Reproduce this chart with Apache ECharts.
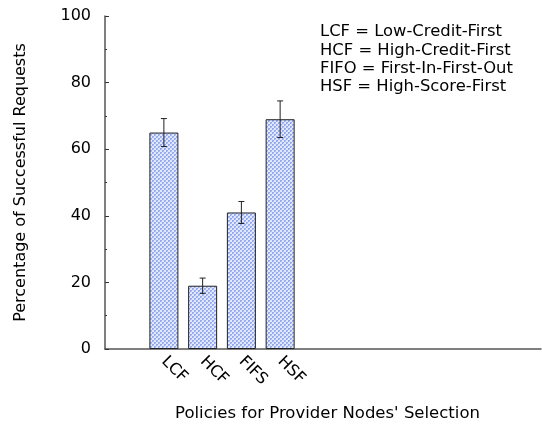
<!DOCTYPE html>
<html>
<head>
<meta charset="utf-8">
<script src="https://cdn.jsdelivr.net/npm/echarts@6/dist/echarts.min.js"></script>
<style>
  html, body { margin: 0; padding: 0; background: #fff; }
  #chart { width: 542px; height: 424px; }
</style>
</head>
<body>
<div id="chart"></div>
<script>
// Policies and their success rates (%) with error half-widths
const policies = ['LCF', 'HCF', 'FIFS', 'HSF'];
const successRate = [65, 19, 41, 69];
const errorHalf = [4.2, 2.3, 3.3, 5.5];
const yTicks = [0, 20, 40, 60, 80, 100];
const legendLines = [
  'LCF = Low-Credit-First',
  'HCF = High-Credit-First',
  'FIFO = First-In-First-Out',
  'HSF = High-Score-First'
];

const FONT = 'DejaVu Sans';

// Small checkered fill used for the bars
function makePattern() {
  const c = document.createElement('canvas');
  c.width = 4; c.height = 4;
  const g = c.getContext('2d');
  for (let y = 0; y < 4; y++) {
    for (let x = 0; x < 4; x++) {
      const dark = (Math.floor(x / 2) + Math.floor(y / 2)) % 2 === 0;
      g.fillStyle = dark ? '#93a8ef' : '#e2e8fc';
      g.fillRect(x, y, 1, 1);
    }
  }
  g.fillStyle = '#b9c7f5';
  g.fillRect(1, 1, 1, 1);
  g.fillRect(3, 3, 1, 1);
  return c;
}

const chart = echarts.init(document.getElementById('chart'), null, { renderer: 'canvas' });

const TOP = 16, BOTTOM = 75;

chart.setOption({
  backgroundColor: '#fff',
  animation: false,
  textStyle: { fontFamily: FONT },
  grid: [
    { left: 105, top: TOP, right: 1, bottom: BOTTOM, outerBoundsMode: 'none', containLabel: false },
    { left: 144.5, top: TOP, width: 155, bottom: BOTTOM, outerBoundsMode: 'none', containLabel: false }
  ],
  xAxis: [
    {
      gridIndex: 0, type: 'value', min: 0, max: 1,
      axisLine: { show: true, lineStyle: { color: '#555', width: 1.5 } },
      axisTick: { show: false }, axisLabel: { show: false }, splitLine: { show: false },
      name: "Policies for Provider Nodes' Selection",
      nameLocation: 'middle', nameGap: 56,
      nameTextStyle: { fontFamily: FONT, fontSize: 16.5, color: '#000', padding: [0, 0, 0, 9] }
    },
    {
      gridIndex: 1, type: 'category', data: policies,
      axisLine: { show: false }, axisTick: { show: false },
      axisLabel: { rotate: -45, margin: 10, fontFamily: FONT, fontSize: 16, color: '#000' }
    }
  ],
  yAxis: [
    {
      gridIndex: 0, type: 'value', min: 0, max: 100, interval: 20,
      axisLine: { show: true, lineStyle: { color: '#555', width: 1.5 } },
      axisTick: { show: true, inside: true, length: 4, lineStyle: { color: '#333' } },
      minorTick: { show: true, splitNumber: 2, length: 2, lineStyle: { color: '#333' } },
      splitLine: { show: false },
      axisLabel: {
        margin: 14, fontFamily: FONT, fontSize: 16, color: '#000',
        formatter: v => (yTicks.indexOf(v) >= 0 ? String(v) : '')
      },
      name: 'Percentage of Successful Requests',
      nameLocation: 'middle', nameGap: 76,
      nameTextStyle: { fontFamily: FONT, fontSize: 16, color: '#000' }
    },
    {
      gridIndex: 1, type: 'value', min: 0, max: 100, show: false
    }
  ],
  series: [
    {
      type: 'bar', xAxisIndex: 1, yAxisIndex: 1,
      data: successRate, barWidth: 29,
      itemStyle: {
        color: { image: makePattern(), repeat: 'repeat' },
        borderColor: '#222', borderWidth: 1
      }
    },
    {
      type: 'custom', xAxisIndex: 1, yAxisIndex: 1,
      data: successRate.map((v, i) => [i, v - errorHalf[i], v + errorHalf[i]]),
      renderItem: function (params, api) {
        const lo = api.coord([api.value(0), api.value(1)]);
        const hi = api.coord([api.value(0), api.value(2)]);
        const x = lo[0], w = 3;
        const st = { stroke: '#222', lineWidth: 1 };
        return {
          type: 'group',
          children: [
            { type: 'line', shape: { x1: x, y1: lo[1], x2: x, y2: hi[1] }, style: st },
            { type: 'line', shape: { x1: x - w, y1: lo[1], x2: x + w, y2: lo[1] }, style: st },
            { type: 'line', shape: { x1: x - w, y1: hi[1], x2: x + w, y2: hi[1] }, style: st }
          ]
        };
      },
      z: 5
    }
  ],
  graphic: [
    {
      type: 'text', left: 320, top: 23,
      style: {
        text: legendLines.join('\n'),
        fontFamily: FONT, fontSize: 16.4, lineHeight: 18.3, fill: '#000'
      }
    }
  ]
});
</script>
</body>
</html>
